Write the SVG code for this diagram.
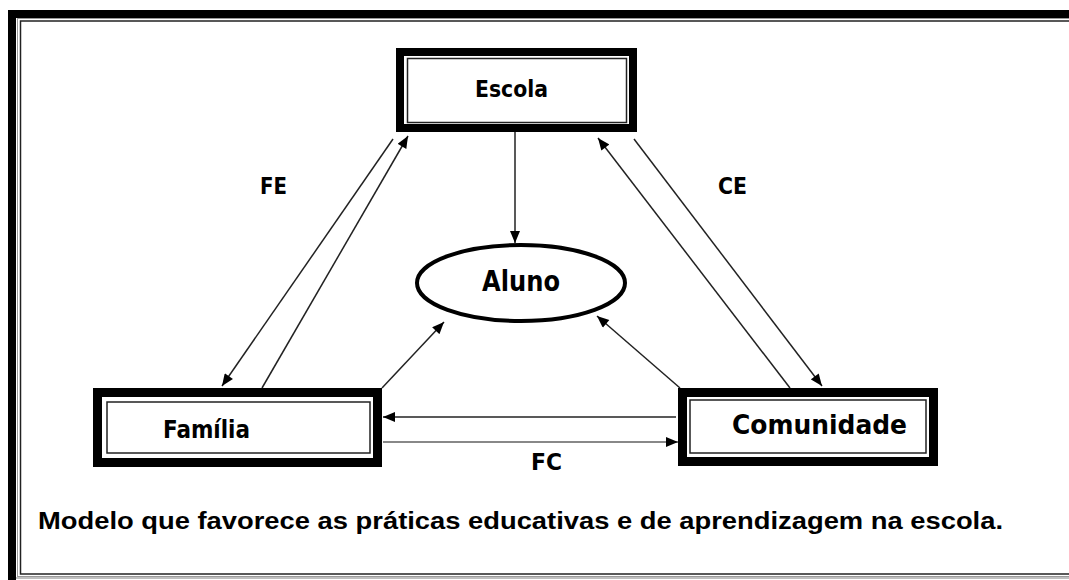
<svg xmlns="http://www.w3.org/2000/svg" width="1069" height="580" viewBox="0 0 1069 580">
<style>
.lbl{font-family:"DejaVu Sans",Verdana,sans-serif;font-weight:bold;fill:#000}
.cap{font-family:"Liberation Sans",Arial,sans-serif;font-weight:bold;fill:#000}
.box{fill:#fff;stroke:#000}
.inner{fill:none;stroke:#222;stroke-width:1.5}
.c{stroke:#222;stroke-width:1.5;fill:none}
</style>
<defs>
<marker id="ah" viewBox="0 0 12 10" refX="12" refY="5" markerWidth="13" markerHeight="10" markerUnits="userSpaceOnUse" orient="auto">
<path d="M0,0 L12,5 L0,10 Z" fill="#000"/>
</marker>
</defs>
<rect width="1069" height="580" fill="#fff"/>
<g id="frame">
<rect x="12" y="14" width="1100" height="600" fill="none" stroke="#000" stroke-width="8"/>
<rect x="17.5" y="18.5" width="1100" height="558" fill="none" stroke="#999" stroke-width="1"/>
<rect x="20.5" y="21" width="1100" height="553" fill="none" stroke="#222" stroke-width="1.5"/>
<line x1="16" y1="578" x2="1069" y2="578" stroke="#aaa" stroke-width="1.5"/>
</g>
<g id="connectors">
<line class="c" x1="515" y1="132" x2="515" y2="243" marker-end="url(#ah)"/>
<line class="c" x1="393" y1="139" x2="222" y2="386" marker-end="url(#ah)"/>
<line class="c" x1="262" y1="388" x2="408" y2="136" marker-end="url(#ah)"/>
<line class="c" x1="790" y1="388" x2="598" y2="138" marker-end="url(#ah)"/>
<line class="c" x1="634" y1="139" x2="822" y2="386" marker-end="url(#ah)"/>
<line class="c" x1="382" y1="388" x2="444" y2="322" marker-end="url(#ah)"/>
<line class="c" x1="680" y1="388" x2="597" y2="316" marker-end="url(#ah)"/>
<line class="c" x1="676" y1="417" x2="383" y2="417" marker-end="url(#ah)"/>
<line x1="383" y1="442" x2="678" y2="442" stroke="#888" stroke-width="2" marker-end="url(#ah)"/>
<text class="lbl" x="260" y="194" font-size="23" textLength="27" lengthAdjust="spacingAndGlyphs">FE</text>
<text class="lbl" x="718" y="194" font-size="23" textLength="29" lengthAdjust="spacingAndGlyphs">CE</text>
<text class="lbl" x="531" y="470" font-size="23" textLength="31" lengthAdjust="spacingAndGlyphs">FC</text>
</g>
<g id="escola">
<rect class="box" x="400" y="52" width="233" height="76" stroke-width="8"/>
<rect class="inner" x="407.5" y="58.5" width="219" height="64"/>
<text class="lbl" x="475" y="97" font-size="23" textLength="73" lengthAdjust="spacingAndGlyphs">Escola</text>
</g>
<g id="aluno">
<ellipse cx="521" cy="283" rx="104" ry="38" fill="#fff" stroke="#000" stroke-width="4"/>
<text class="lbl" x="482" y="291" font-size="28" textLength="78" lengthAdjust="spacingAndGlyphs">Aluno</text>
</g>
<g id="familia">
<rect class="box" x="97.5" y="392.5" width="280" height="70" stroke-width="9"/>
<rect class="inner" x="107" y="402" width="263" height="51"/>
<text class="lbl" x="163" y="438" font-size="25" textLength="87" lengthAdjust="spacingAndGlyphs">Família</text>
</g>
<g id="comunidade">
<rect class="box" x="682.5" y="392.5" width="251" height="69" stroke-width="9"/>
<rect class="inner" x="690" y="400" width="236" height="53"/>
<text class="lbl" x="732" y="434" font-size="27" textLength="175" lengthAdjust="spacingAndGlyphs">Comunidade</text>
</g>
<g id="caption">
<text class="cap" x="38" y="529" font-size="23" textLength="965" lengthAdjust="spacingAndGlyphs">Modelo que favorece as práticas educativas e de aprendizagem na escola.</text>
</g>
</svg>
